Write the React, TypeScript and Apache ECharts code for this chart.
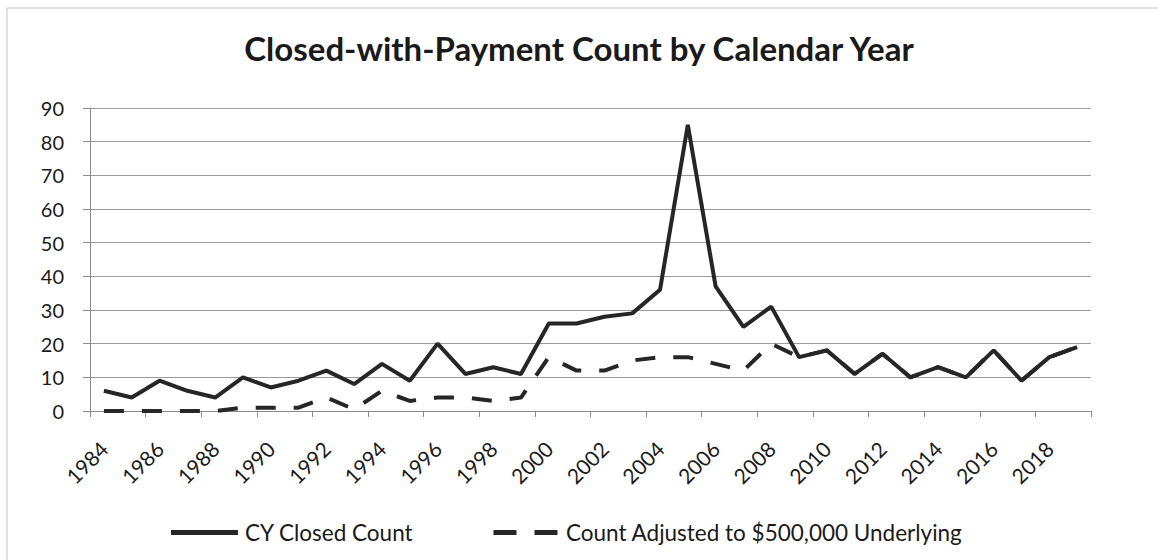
import React, { useEffect, useRef } from "react";
import * as echarts from "echarts";

const years: string[] = [
  "1984","1985","1986","1987","1988","1989","1990","1991","1992","1993",
  "1994","1995","1996","1997","1998","1999","2000","2001","2002","2003",
  "2004","2005","2006","2007","2008","2009","2010","2011","2012","2013",
  "2014","2015","2016","2017","2018","2019",
];

const closedCount: number[] = [
  6, 4, 9, 6, 4, 10, 7, 9, 12, 8,
  14, 9, 20, 11, 13, 11, 26, 26, 28, 29,
  36, 85, 37, 25, 31, 16, 18, 11, 17, 10,
  13, 10, 18, 9, 16, 19,
];

const adjustedCount: number[] = [
  0, 0, 0, 0, 0, 1, 1, 1, 4, 0.5,
  6, 3, 4, 4, 3, 4, 16, 12, 12, 15,
  16, 16, 14, 12, 20, 16, 18, 11, 17, 10,
  13, 10, 18, 9, 16, 19,
];

const seriesNames: string[] = ["CY Closed Count", "Count Adjusted to $500,000 Underlying"];

const yTicks = { min: 0, max: 90, interval: 10 };

const FONT = "Lato";
const INK = "#1a1a1a";
const LINE = "#262626";

export default function App() {
  const ref = useRef<HTMLDivElement>(null);
  useEffect(() => {
    if (!ref.current) return;
    const chart = echarts.init(ref.current, undefined, { renderer: "svg" });
    chart.setOption({
      animation: false,
      backgroundColor: "#ffffff",
      title: {
        text: "Closed-with-Payment Count by Calendar Year",
        left: "center",
        top: 26,
        textStyle: { fontFamily: FONT, fontWeight: "bold", fontSize: 33, color: INK },
      },
      graphic: [
        {
          type: "rect",
          shape: { x: 7, y: 8, width: 1200, height: 600 },
          style: { fill: "none", stroke: "#c4c4c4", lineWidth: 1 },
          silent: true,
        },
      ],
      legend: {
        top: 516,
        left: 166,
        itemWidth: 67,
        itemHeight: 5,
        itemGap: 80,
        textStyle: { fontFamily: FONT, fontSize: 22.5, color: INK, padding: [0, 0, 0, 2] },
        data: [
          { name: seriesNames[0], icon: "path://M0,0H67V5H0Z" },
          { name: seriesNames[1], icon: "path://M0,0H23V5H0Z M41,0H64V5H41Z" },
        ],
      },
      grid: { left: 90, right: 67, top: 108, bottom: 149 },
      xAxis: {
        type: "category",
        data: years,
        boundaryGap: true,
        axisLine: { lineStyle: { color: "#8a8a8a", width: 1 } },
        axisTick: { show: true, length: 6, lineStyle: { color: "#8a8a8a" } },
        axisLabel: {
          interval: 1,
          rotate: 45,
          margin: 34,
          fontFamily: FONT,
          fontSize: 21,
          color: INK,
        },
      },
      yAxis: {
        type: "value",
        min: yTicks.min,
        max: yTicks.max,
        interval: yTicks.interval,
        axisLine: { show: true, lineStyle: { color: "#8a8a8a", width: 1 } },
        axisTick: { show: true, length: 7, lineStyle: { color: "#8a8a8a" } },
        splitLine: { lineStyle: { color: "#9a9a9a", width: 1 } },
        axisLabel: { margin: 26, fontFamily: FONT, fontSize: 20, color: INK },
      },
      series: [
        {
          name: seriesNames[0],
          type: "line",
          data: closedCount,
          symbol: "none",
          lineStyle: { color: LINE, width: 4 },
          itemStyle: { color: LINE },
          z: 2,
        },
        {
          name: seriesNames[1],
          type: "line",
          data: adjustedCount,
          symbol: "none",
          lineStyle: { color: LINE, width: 4, type: [20, 18] },
          itemStyle: { color: LINE },
          z: 3,
        },
      ],
    });
    return () => chart.dispose();
  }, []);
  return (
    <div
      ref={ref}
      style={{ position: "fixed", left: 0, top: 0, width: 1158, height: 560 }}
    />
  );
}
